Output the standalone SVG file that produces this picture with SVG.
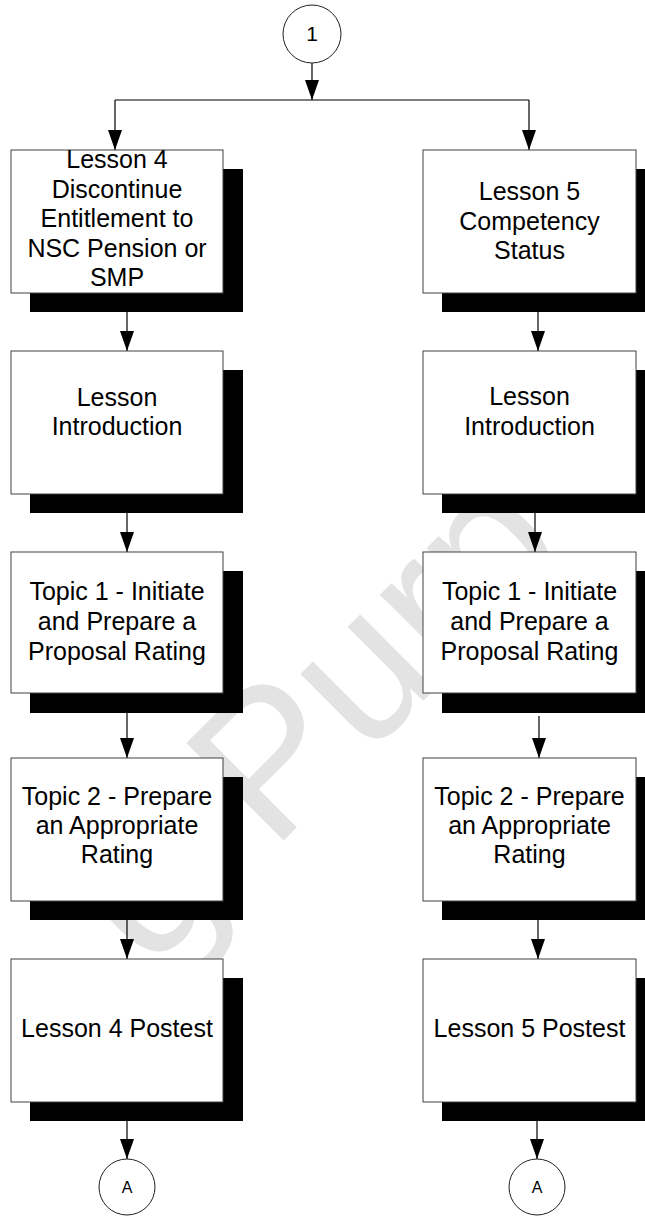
<svg xmlns="http://www.w3.org/2000/svg" width="645" height="1216" viewBox="0 0 645 1216">
<style>
.wm{font-family:"Liberation Sans",Arial,sans-serif;font-size:200px;fill:#e3e3e3}
.sh{fill:#000}
.bx{fill:#fff;stroke:#404040;stroke-width:1}
.t{font-family:"Liberation Sans",Arial,sans-serif;font-size:25px;fill:#000;text-anchor:middle}
.c{fill:#fff;stroke:#202020;stroke-width:1}
.ct{font-family:"Liberation Sans",Arial,sans-serif;fill:#000;text-anchor:middle}
.ln{stroke:#000;stroke-width:1.2;fill:none}
</style>
<defs>
<marker id="ah" markerUnits="userSpaceOnUse" markerWidth="20" markerHeight="14" refX="20" refY="7" orient="auto">
<path d="M0,0 L20,7 L0,14 z" fill="#000"/>
</marker>
</defs>
<rect width="645" height="1216" fill="#fff"/>
<g id="watermark">
<text class="wm" transform="translate(150,972) rotate(-45)">g</text>
<text class="wm" transform="translate(272,852) rotate(-45)">P</text>
<text class="wm" transform="translate(366,758) rotate(-45)">u</text>
<text class="wm" transform="translate(445,679) rotate(-45)">r</text>
<text class="wm" transform="translate(492,632) rotate(-45)">p</text>
</g>

<g id="connectors">
<line class="ln" x1="312" y1="63" x2="312" y2="100" marker-end="url(#ah)"/>
<line class="ln" x1="115" y1="100" x2="529" y2="100"/>
<line class="ln" x1="115" y1="100" x2="115" y2="150" marker-end="url(#ah)"/>
<line class="ln" x1="529" y1="100" x2="529" y2="150" marker-end="url(#ah)"/>
<line class="ln" x1="127" y1="312" x2="127" y2="351" marker-end="url(#ah)"/>
<line class="ln" x1="127" y1="512" x2="127" y2="552" marker-end="url(#ah)"/>
<line class="ln" x1="127" y1="712" x2="127" y2="758" marker-end="url(#ah)"/>
<line class="ln" x1="127" y1="920" x2="127" y2="959" marker-end="url(#ah)"/>
<line class="ln" x1="127" y1="1121" x2="127" y2="1159" marker-end="url(#ah)"/>
<line class="ln" x1="538" y1="312" x2="538" y2="351" marker-end="url(#ah)"/>
<line class="ln" x1="535" y1="512" x2="535" y2="552" marker-end="url(#ah)"/>
<line class="ln" x1="539" y1="716" x2="539" y2="758" marker-end="url(#ah)"/>
<line class="ln" x1="538" y1="920" x2="538" y2="959" marker-end="url(#ah)"/>
<line class="ln" x1="537" y1="1121" x2="537" y2="1159" marker-end="url(#ah)"/>
</g>

<g id="start">
<circle class="c" cx="312" cy="34" r="29"/>
<text class="ct" x="312" y="41" font-size="21">1</text>
</g>

<g id="l4">
<rect class="sh" x="30" y="169" width="213" height="143"/>
<rect class="bx" x="11" y="150" width="212" height="143"/>
<text class="t" x="117" y="168">Lesson 4</text>
<text class="t" x="117" y="197.5">Discontinue</text>
<text class="t" x="117" y="227">Entitlement to</text>
<text class="t" x="117" y="256.5">NSC Pension or</text>
<text class="t" x="117" y="286">SMP</text>
</g>
<g id="l4intro">
<rect class="sh" x="30" y="370" width="213" height="143"/>
<rect class="bx" x="11" y="351" width="212" height="143"/>
<text class="t" x="117" y="406">Lesson</text>
<text class="t" x="117" y="435">Introduction</text>
</g>
<g id="l4t1">
<rect class="sh" x="30" y="571" width="213" height="142"/>
<rect class="bx" x="11" y="552" width="212" height="141"/>
<text class="t" x="117" y="600">Topic 1 - Initiate</text>
<text class="t" x="117" y="630">and Prepare a</text>
<text class="t" x="117" y="660">Proposal Rating</text>
</g>
<g id="l4t2">
<rect class="sh" x="30" y="777" width="213" height="143"/>
<rect class="bx" x="11" y="758" width="212" height="143"/>
<text class="t" x="117" y="805">Topic 2 - Prepare</text>
<text class="t" x="117" y="834">an Appropriate</text>
<text class="t" x="117" y="863">Rating</text>
</g>
<g id="l4post">
<rect class="sh" x="30" y="978" width="213" height="143"/>
<rect class="bx" x="11" y="959" width="212" height="143"/>
<text class="t" x="117" y="1037">Lesson 4 Postest</text>
</g>
<g id="endA1">
<circle class="c" cx="127" cy="1187" r="28"/>
<text class="ct" x="127" y="1193" font-size="16">A</text>
</g>

<g id="l5">
<rect class="sh" x="442" y="169" width="213" height="143"/>
<rect class="bx" x="423" y="150" width="213" height="143"/>
<text class="t" x="529.5" y="200">Lesson 5</text>
<text class="t" x="529.5" y="229.5">Competency</text>
<text class="t" x="529.5" y="259">Status</text>
</g>
<g id="l5intro">
<rect class="sh" x="442" y="370" width="213" height="143"/>
<rect class="bx" x="423" y="351" width="213" height="143"/>
<text class="t" x="529.5" y="405">Lesson</text>
<text class="t" x="529.5" y="435">Introduction</text>
</g>
<g id="l5t1">
<rect class="sh" x="442" y="571" width="213" height="142"/>
<rect class="bx" x="423" y="552" width="213" height="141"/>
<text class="t" x="529.5" y="600">Topic 1 - Initiate</text>
<text class="t" x="529.5" y="630">and Prepare a</text>
<text class="t" x="529.5" y="660">Proposal Rating</text>
</g>
<g id="l5t2">
<rect class="sh" x="442" y="777" width="213" height="143"/>
<rect class="bx" x="423" y="758" width="213" height="143"/>
<text class="t" x="529.5" y="805">Topic 2 - Prepare</text>
<text class="t" x="529.5" y="834">an Appropriate</text>
<text class="t" x="529.5" y="863">Rating</text>
</g>
<g id="l5post">
<rect class="sh" x="442" y="978" width="213" height="143"/>
<rect class="bx" x="423" y="959" width="213" height="143"/>
<text class="t" x="529.5" y="1037">Lesson 5 Postest</text>
</g>
<g id="endA2">
<circle class="c" cx="537" cy="1187" r="28"/>
<text class="ct" x="537" y="1193" font-size="16">A</text>
</g>
</svg>
